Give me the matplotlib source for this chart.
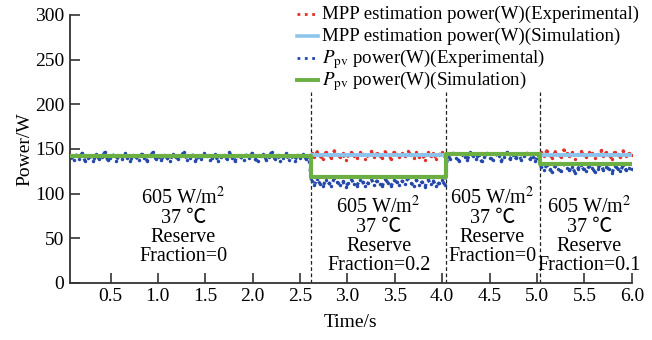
import numpy as np
import matplotlib
matplotlib.use("Agg")
import matplotlib.pyplot as plt
from matplotlib.lines import Line2D

plt.rcParams['font.family'] = ['Liberation Serif', 'Noto Sans CJK SC', 'DejaVu Serif']
plt.rcParams['mathtext.fontset'] = 'stix'

# experimental P_pv samples (W), per interval
ppv_exp_seg1 = [141, 138, 143, 139, 145, 137, 140, 142, 136, 144, 139, 141, 146, 138, 140, 143, 137, 142, 139, 145,
                140, 136, 143, 141, 138, 144, 140, 137, 142, 146, 139, 141, 138, 143, 140, 136, 144, 141, 139, 142,
                147, 138, 140, 143, 137, 141, 139, 145, 142, 138, 140, 144, 136, 141, 143, 139, 146, 140, 137, 142,
                141, 138, 143, 140, 145, 139, 136, 142, 144, 138, 141, 147, 139, 143, 137, 140, 145, 138, 142, 136,
                143, 140, 144, 139, 141]
ppv_exp_seg2 = [114, 110, 116, 111, 108, 115, 112, 109, 117, 113, 110, 114, 107, 112, 116, 111,
                109, 115, 113, 108, 112, 117, 110, 114, 111, 109, 116, 112, 108, 115, 113, 110,
                114, 111, 117, 112, 109, 115, 110, 113, 107, 116, 111, 114, 108, 112, 115, 110]
ppv_exp_seg3 = [143, 139, 145, 140, 137, 144, 141, 138, 146, 142, 139, 143, 136, 141, 145, 140,
                138, 144, 142, 137, 141, 146, 139, 143, 140, 144, 138, 142, 145, 139, 141, 137, 143]
ppv_exp_seg4 = [130, 126, 132, 127, 124, 131, 128, 125, 133, 129, 126, 130, 123, 128, 132, 127,
                125, 131, 129, 124, 128, 133, 126, 130, 127, 123, 131, 128, 125, 132, 126, 129, 127]

# experimental MPP estimate, shown while a reserve is held
mpp_exp_seg2 = [145, 141, 147, 142, 139, 146, 143, 140, 148, 144, 141, 145, 138, 143, 147, 142,
                140, 146, 144, 139, 143, 148, 141, 145, 142, 140, 147, 143, 139, 146, 144, 141,
                145, 142, 148, 143, 140, 146, 141, 144, 138, 147, 142, 145, 139, 143, 146, 141]
mpp_exp_seg4 = [146, 142, 148, 143, 140, 147, 144, 141, 149, 145, 142, 146, 139, 144, 148, 143,
                141, 147, 145, 140, 144, 149, 142, 146, 143, 139, 147, 144, 141, 148, 142, 145, 143]

ppv_exp = ppv_exp_seg1 + ppv_exp_seg2 + ppv_exp_seg3 + ppv_exp_seg4
t_exp = np.linspace(0.08, 6.0, len(ppv_exp))
n1, n2, n3 = len(ppv_exp_seg1), len(ppv_exp_seg2), len(ppv_exp_seg3)
t_seg2 = t_exp[n1:n1 + n2]
t_seg4 = t_exp[n1 + n2 + n3:]

# simulation (step changes)
t_steps = [0.08, 2.62, 4.04, 5.03, 6.0]
ppv_sim = [142, 119, 144, 133, 133]
mpp_sim = [142, 143, 144, 143, 143]

# operating conditions per interval
cond_x = [1.27, 3.33, 4.53, 5.55]
cond_y = [63, 53, 63, 53]
cond_text = [
    "605 W/m$^2$\n37 \u2103\nReserve\nFraction=0",
    "605 W/m$^2$\n37 \u2103\nReserve\nFraction=0.2",
    "605 W/m$^2$\n37 \u2103\nReserve\nFraction=0",
    "605 W/m$^2$\n37 \u2103\nReserve\nFraction=0.1",
]
bounds = [2.62, 4.04, 5.03]

legend_labels = ["MPP estimation power(W)(Experimental)",
                 "MPP estimation power(W)(Simulation)",
                 r"$P_{\rm pv}$ power(W)(Experimental)",
                 r"$P_{\rm pv}$ power(W)(Simulation)"]

fig = plt.figure(figsize=(6.52, 3.40), dpi=100)
ax = fig.add_axes([0.107, 0.168, 0.862, 0.788])

red = '#e0302a'
blue = '#2448aa'
lblue = '#8cc4ec'
green = '#6cb043'

ax.plot(t_exp, ppv_exp, ':', color=blue, lw=2.3, marker='o', ms=2.5, mew=0, zorder=2)
ax.plot(t_seg2, mpp_exp_seg2, ':', color=red, lw=2.2, marker='o', ms=2.4, mew=0, zorder=3)
ax.plot(t_seg4, mpp_exp_seg4, ':', color=red, lw=2.2, marker='o', ms=2.4, mew=0, zorder=3)
ax.step(t_steps, mpp_sim, where='post', color=lblue, lw=2.8, zorder=4)
ax.step(t_steps, ppv_sim, where='post', color=green, lw=3.0, zorder=5)

ax.vlines(bounds, 0, 214, colors='#222222', linestyles=(0, (3, 2)), lw=0.9, zorder=1)

for x, y, s in zip(cond_x, cond_y, cond_text):
    ax.text(x, y, s, ha='center', va='center', fontsize=14.5, linespacing=1.0)

# legend, laid out row by row so that the rows are evenly spaced
styles = [(':', red, 2.0), ('-', lblue, 2.6), (':', blue, 2.0), ('-', green, 2.8)]
W, H = 652.0, 340.0
for i, (lab, (ls, col, lw)) in enumerate(zip(legend_labels, styles)):
    base = 19 + 22 * i
    yc = 1 - (base - 5) / H
    fig.add_artist(Line2D([297 / W, 318 / W], [yc, yc], ls=ls, color=col, lw=lw,
                          transform=fig.transFigure))
    fig.text(322 / W, 1 - base / H, lab, fontsize=13.6, va='baseline', ha='left')

ax.set_xlim(0.07, 6.0)
ax.set_ylim(0, 300)
ax.set_xticks([0.5, 1.0, 1.5, 2.0, 2.5, 3.0, 3.5, 4.0, 4.5, 5.0, 5.5, 6.0])
ax.set_yticks([0, 50, 100, 150, 200, 250, 300])
ax.tick_params(direction='in', length=7, width=1.2, color='#333333', labelsize=14, pad=4)
for side in ['top', 'right']:
    ax.spines[side].set_visible(False)
for side in ['left', 'bottom']:
    ax.spines[side].set_linewidth(1.3)
    ax.spines[side].set_color('#333333')

ax.set_xlabel("Time/s", fontsize=14, labelpad=6)
ax.set_ylabel("Power/W", fontsize=14, labelpad=1)

fig.savefig("out.png", dpi=100)
